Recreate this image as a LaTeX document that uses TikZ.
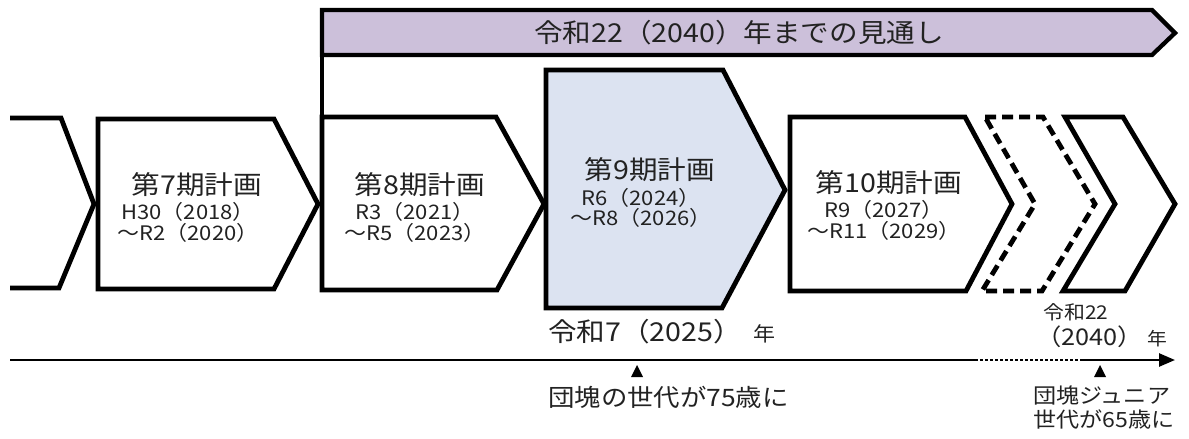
\documentclass[tikz,border=0pt]{standalone}
\usepackage{fontspec}
\setmainfont{Noto Sans CJK JP}[FakeStretch=1.1]
\usetikzlibrary{arrows.meta}
\definecolor{lav}{HTML}{CCC0DA}
\definecolor{lblue}{HTML}{DCE3F1}
\definecolor{ink}{HTML}{222222}
\newcommand\jfs[2]{\fontsize{#1}{#2}\selectfont}
\begin{document}
\begin{tikzpicture}[x=1pt,y=-1pt,line join=miter,
  box/.style={draw=black,line width=4.8pt,fill=white},
  txt/.style={inner sep=0pt,text=ink},
  ptitle/.style={txt,font=\jfs{26}{28}},
  pdate/.style={txt,font=\jfs{20}{21},align=center},
  axisline/.style={line width=2.5pt,draw=black}]
\path[use as bounding box] (0,0) rectangle (1189,439);
% top arrow
\draw[box,fill=lav,line width=4.3pt] (322,10) -- (1152,10) -- (1175,33) -- (1152,55) -- (322,55) -- cycle;
\draw[line width=4.8pt] (322,55) -- (322,117);
% chevrons
\draw[line width=4.8pt] (10,118) -- (61,118) -- (94,204) -- (59,288) -- (10,288);
\draw[box] (98,119) -- (274,119) -- (318,204) -- (274,289) -- (98,289) -- cycle;
\draw[box] (322,117) -- (496,117) -- (544,204) -- (497,290) -- (322,290) -- cycle;
\draw[box,fill=lblue] (546,70) -- (723,70) -- (785,190) -- (722,308) -- (546,308) -- cycle;
\draw[box] (790,117) -- (965,117) -- (1012,204) -- (966,291) -- (790,291) -- cycle;
\draw[box,dash pattern=on 11pt off 6pt] (985,117) -- (1043,117) -- (1095,204) -- (1042,291) -- (982,291) -- (1035,204) -- cycle;
\draw[box] (1065,117) -- (1123,117) -- (1175,204) -- (1125,291) -- (1063,291) -- (1115,204) -- cycle;
% texts
\node[txt,font=\jfs{26}{28}] (ttl) at (739,33) {令和22（2040）年までの見通し};
\node[ptitle] (p7) at (197,185) {第7期計画};
\node[pdate] (d7) at (188,222.5) {H30（2018）\\～R2（2020）};
\node[ptitle] (p8) at (420,185) {第8期計画};
\node[pdate] (d8) at (415,222.5) {R3（2021）\\～R5（2023）};
\node[ptitle] (p9) at (650,170) {第9期計画};
\node[pdate,font=\jfs{20}{20}] (d9) at (641,208) {R6（2024）\\～R8（2026）};
\node[ptitle] (p10) at (889,183) {第10期計画};
\node[pdate] (d10) at (884,220) {R9（2027）\\～R11（2029）};
% axis
\coordinate (a0) at (10,360);
\coordinate (a1) at (975,360);
\coordinate (a2) at (1083,360);
\coordinate (a3) at (1175,360);
\draw[axisline] (a0) -- (a1);
\draw[axisline,dash pattern=on 3pt off 2pt] (a1) -- (a2);
\draw[axisline,-{Triangle[length=16pt,width=13pt]}] (a2) -- (a3);
\fill[black] (631,377) -- (643,377) -- (637,365) -- cycle;
\fill[black] (1094,377) -- (1106,377) -- (1100,365) -- cycle;
\node[txt,anchor=west] (y25) at (548,332) {\jfs{26}{28}令和7（2025）\hspace{12pt}\jfs{20}{22}年};
\node[txt,anchor=west] (g75) at (548,397) {\jfs{24}{26}団塊の世代が75歳に};
\node[txt,anchor=west] (r22) at (1043,312) {\jfs{19}{21}令和22};
\node[txt,anchor=west] (y40) at (1036,337) {\jfs{23}{25}（2040）\hspace{5pt}\jfs{18}{20}年};
\node[txt,anchor=west,align=left,font=\jfs{21}{24}] (gj) at (1033,408) {団塊ジュニア\\世代が65歳に};
\end{tikzpicture}
\end{document}
